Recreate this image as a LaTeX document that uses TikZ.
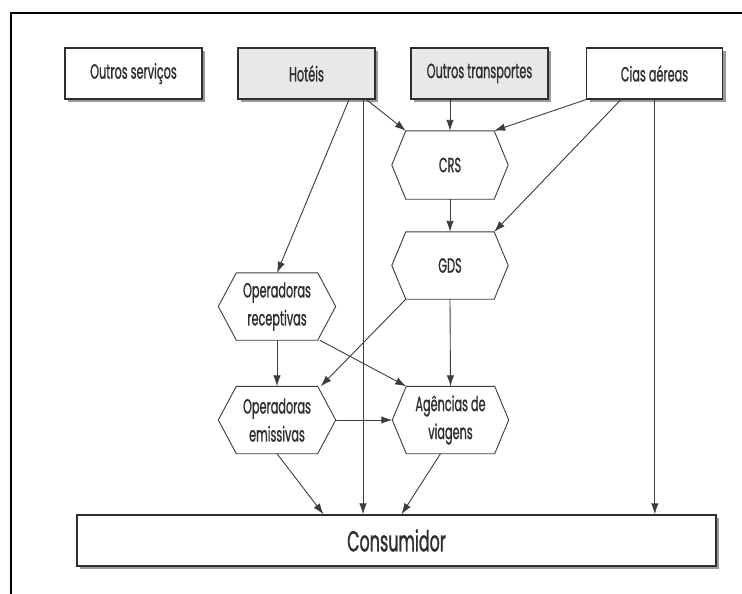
\documentclass[tikz,border=0pt]{standalone}
\usepackage{fontspec}
\setmainfont{Poppins}[FakeStretch=0.55, FakeBold=0.9]
\usetikzlibrary{shadows,arrows.meta}
\definecolor{ink}{HTML}{2e2e2e}
\definecolor{lin}{HTML}{3c3c3c}
\tikzset{
  box/.style={draw=ink, line width=1.3pt, minimum width=137pt, minimum height=51pt,
    text=ink, font=\fontsize{20.5}{24}\selectfont,
    drop shadow={shadow xshift=3pt, shadow yshift=-3pt, fill=black, opacity=0.4}},
  graybox/.style={box, fill=black!9},
  whitebox/.style={box, fill=white},
  hexnode/.style={minimum width=116pt, minimum height=67pt, inner sep=0pt,
    text=ink, align=center, font=\fontsize{20.5}{28}\selectfont},
  hexline/.style={draw=lin, line width=0.9pt, line join=miter},
  arr/.style={draw=lin, line width=0.9pt, -{Latex[length=11pt,width=7.5pt]}},
  frame/.style={draw=black, line width=2pt}
}
\newcommand\hexdraw[2]{\draw[hexline] ([xshift=#2]#1.north west) -- ([xshift=-#2]#1.north east) -- (#1.east) -- ([xshift=-#2]#1.south east) -- ([xshift=#2]#1.south west) -- (#1.west) -- cycle;}
\begin{document}
\begin{tikzpicture}[x=1pt, y=-1pt]
\useasboundingbox[fill=white] (0,0) rectangle (742,594);
\coordinate (f1) at (742,13);
\coordinate (f2) at (11,13);
\coordinate (f3) at (11,594);
\draw[frame] (f1) -- (f2) -- (f3);

% top boxes
\node[whitebox] (os) at (133.5,73.5) {Outros serviços};
\node[graybox] (hot) at (306.5,73.5) {Hotéis};
\node[graybox] (ot) at (479.5,73.5) {Outros transportes};
\node[whitebox, minimum width=136pt] (cias) at (654.5,73.5) {Cias aéreas};

% hexagon nodes
\node[hexnode, minimum height=68pt] (crs) at (450,165) {CRS};
\node[hexnode] (gds) at (450,265.5) {GDS};
\node[hexnode, minimum width=117pt] (rec) at (277,306.5) {Operadoras\\receptivas};
\node[hexnode, minimum width=117pt] (emi) at (277,420) {Operadoras\\emissivas};
\node[hexnode] (agv) at (450.5,420) {Agências de\\viagens};
\hexdraw{crs}{14pt}
\hexdraw{gds}{14pt}
\hexdraw{rec}{18pt}
\hexdraw{emi}{18pt}
\hexdraw{agv}{14pt}

% consumer
\node[whitebox, minimum width=639pt, font=\fontsize{29}{32}\selectfont] (cons) at (396.5,540.5) {Consumidor};

% connectors
\draw[arr] ([xshift=42.5pt]hot.south) -- (rec.north);
\draw[arr] ([xshift=56.5pt]hot.south) -- ([xshift=56.5pt]hot.south |- cons.north);
\draw[arr] ([xshift=60pt]hot.south) -- ([xshift=14pt]crs.north west);
\draw[arr] (crs.north |- ot.south) -- (crs.north);
\draw[arr] (cias.south west) -- ([xshift=-14pt]crs.north east);
\draw[arr] ([xshift=35pt]cias.south west) -- ([xshift=-14pt]gds.north east);
\draw[arr] ([xshift=69pt]cias.south west) -- ([xshift=69pt]cias.south west |- cons.north);
\draw[arr] (crs.south) -- (gds.north);
\draw[arr] ([xshift=14pt]gds.south west) -- ([xshift=-15pt]emi.north east);
\draw[arr] (gds.south) -- (agv.north);
\draw[arr] (rec.south) -- (emi.north);
\draw[arr] ([xshift=-16pt]rec.south east) -- ([xshift=14pt]agv.north west);
\draw[arr] (emi.east) -- (agv.west);
\draw[arr] (emi.south) -- ([xshift=-73pt]cons.north);
\draw[arr] ([xshift=-10pt]agv.south) -- ([xshift=5pt]cons.north);
\end{tikzpicture}
\end{document}
